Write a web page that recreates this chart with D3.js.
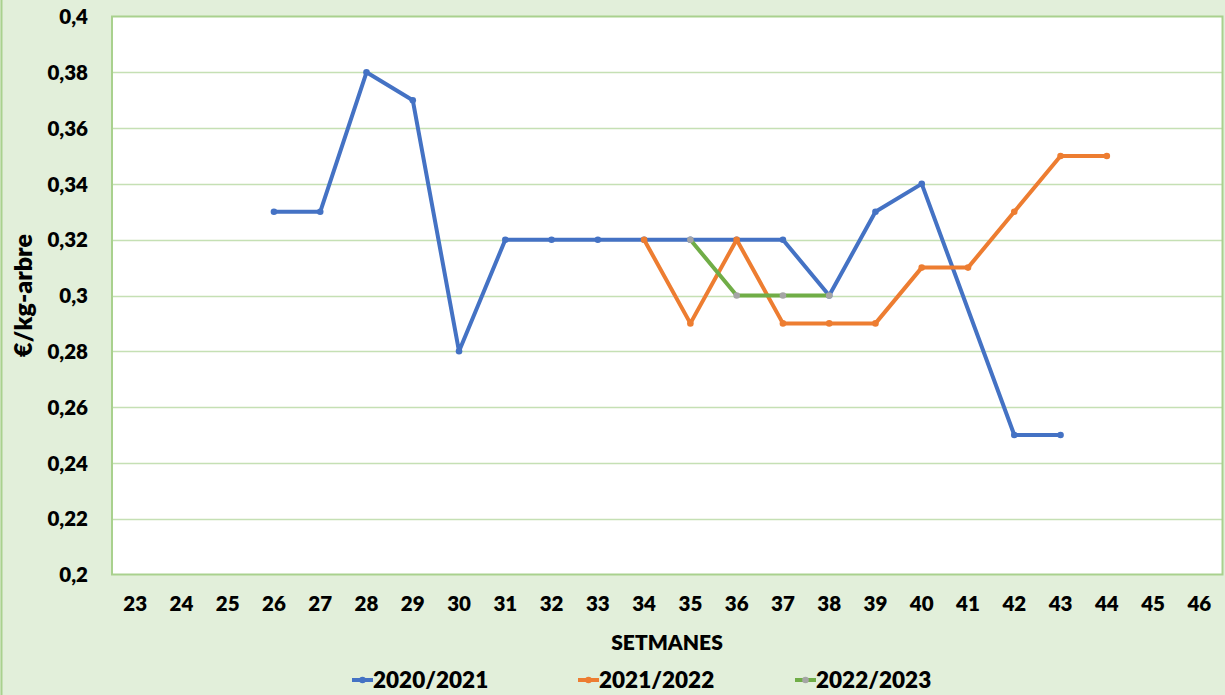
<!DOCTYPE html>
<html>
<head>
<meta charset="utf-8">
<script src="https://cdn.jsdelivr.net/npm/d3@7"></script>
<style>
  html, body { margin: 0; padding: 0; background: #e2efda; }
  svg { display: block; font-family: Lato, "Open Sans", sans-serif; font-weight: bold; }
</style>
</head>
<body>
<div id="root"></div>
<script>
// weeks on the x axis
const weeks = d3.range(23, 47);
const yTicks = [0.2, 0.22, 0.24, 0.26, 0.28, 0.3, 0.32, 0.34, 0.36, 0.38, 0.4];

// season series, null = no value that week
const season2021 = [null, null, null, 0.33, 0.33, 0.38, 0.37, 0.28, 0.32, 0.32, 0.32, 0.32, 0.32, 0.32, 0.32, 0.30, 0.33, 0.34, null, 0.25, 0.25, null, null, null];
const season2122 = [null, null, null, null, null, null, null, null, null, null, null, 0.32, 0.29, 0.32, 0.29, 0.29, 0.29, 0.31, 0.31, 0.33, 0.35, 0.35, null, null];
const season2223 = [null, null, null, null, null, null, null, null, null, null, null, null, 0.32, 0.30, 0.30, 0.30, null, null, null, null, null, null, null, null];

const seriesNames = ["2020/2021", "2021/2022", "2022/2023"];
const lineColors = ["#4472c4", "#ed7d31", "#70ad47"];
const markerColors = ["#4472c4", "#ed7d31", "#a5a5a5"];

const W = 1225, H = 695;
const plot = {left: 112, top: 16.5, right: 1222.5, bottom: 574.5};

const svg = d3.select("#root").append("svg")
    .attr("width", W)
    .attr("height", H);

// outer frame
svg.append("rect")
    .attr("x", 1.5).attr("y", -2)
    .attr("width", W).attr("height", H + 4)
    .attr("fill", "#e2efda")
    .attr("stroke", "#a9d18e")
    .attr("stroke-width", 2);

const x = d3.scaleBand().domain(weeks).range([plot.left, plot.right]);
const y = d3.scaleLinear().domain([0.2, 0.4]).range([plot.bottom, plot.top]);

// plot area
svg.append("rect")
    .attr("x", plot.left).attr("y", plot.top)
    .attr("width", plot.right - plot.left)
    .attr("height", plot.bottom - plot.top)
    .attr("fill", "#ffffff");

// gridlines
svg.append("g")
    .selectAll("line")
    .data(yTicks.slice(1, -1))
    .join("line")
    .attr("x1", plot.left).attr("x2", plot.right)
    .attr("y1", d => Math.round(y(d)) + 0.5)
    .attr("y2", d => Math.round(y(d)) + 0.5)
    .attr("stroke", "#c5e0b4")
    .attr("stroke-width", 1.3);

svg.append("rect")
    .attr("x", plot.left).attr("y", plot.top)
    .attr("width", plot.right - plot.left)
    .attr("height", plot.bottom - plot.top)
    .attr("fill", "none")
    .attr("stroke", "#a9d18e")
    .attr("stroke-width", 2);

// y axis labels
const yAxis = svg.append("g")
    .attr("transform", `translate(${plot.left - 24},0)`)
    .call(d3.axisLeft(y).tickValues(yTicks).tickSize(0).tickPadding(0)
        .tickFormat(d => d3.format("")(+d.toFixed(2)).replace(".", ",")));
yAxis.select(".domain").remove();
yAxis.selectAll("text")
    .attr("font-size", 20.5)
    .attr("font-family", "Lato, sans-serif")
    .attr("font-weight", 800)
    .attr("fill", "#000")
    .attr("dy", "0.35em");

// x axis labels
const xAxis = svg.append("g")
    .attr("transform", `translate(0,${plot.bottom + 22})`)
    .call(d3.axisBottom(x).tickSize(0).tickPadding(0));
xAxis.select(".domain").remove();
xAxis.selectAll("text")
    .attr("font-size", 20.5)
    .attr("font-family", "Lato, sans-serif")
    .attr("font-weight", 800)
    .attr("fill", "#000")
    .attr("dy", "0.71em");

// axis titles
svg.append("text")
    .attr("x", 667).attr("y", 650)
    .attr("text-anchor", "middle")
    .attr("font-size", 21)
    .attr("font-weight", 800)
    .text("SETMANES");

svg.append("text")
    .attr("transform", `translate(32,${(plot.top + plot.bottom) / 2}) rotate(-90)`)
    .attr("text-anchor", "middle")
    .attr("font-size", 25)
    .attr("font-weight", 800)
    .text("€/kg-arbre");

// series lines
const allSeries = [season2021, season2122, season2223];
const line = d3.line()
    .x(d => x(d.week) + x.bandwidth() / 2)
    .y(d => y(d.value));

allSeries.forEach((vals, i) => {
    const pts = weeks.map((w, j) => ({week: w, value: vals[j]})).filter(d => d.value != null);
    const g = svg.append("g");
    g.append("path")
        .datum(pts)
        .attr("d", line)
        .attr("fill", "none")
        .attr("stroke", lineColors[i])
        .attr("stroke-width", 4)
        .attr("stroke-linejoin", "round");
    g.selectAll("circle")
        .data(pts)
        .join("circle")
        .attr("cx", d => x(d.week) + x.bandwidth() / 2)
        .attr("cy", d => y(d.value))
        .attr("r", 3.3)
        .attr("fill", markerColors[i]);
});

// legend
const legendX = [352, 578, 795];
const legend = svg.append("g");
seriesNames.forEach((name, i) => {
    const lg = legend.append("g").attr("transform", `translate(${legendX[i]},680)`);
    lg.append("line")
        .attr("x1", 0).attr("x2", 21)
        .attr("stroke", lineColors[i])
        .attr("stroke-width", 4);
    lg.append("circle")
        .attr("cx", 10.5).attr("r", 3.3)
        .attr("fill", markerColors[i]);
    lg.append("text")
        .attr("x", 21)
        .attr("dy", "0.35em")
        .attr("font-size", 22.5)
        .attr("font-weight", 800)
        .text(name);
});
</script>
</body>
</html>
